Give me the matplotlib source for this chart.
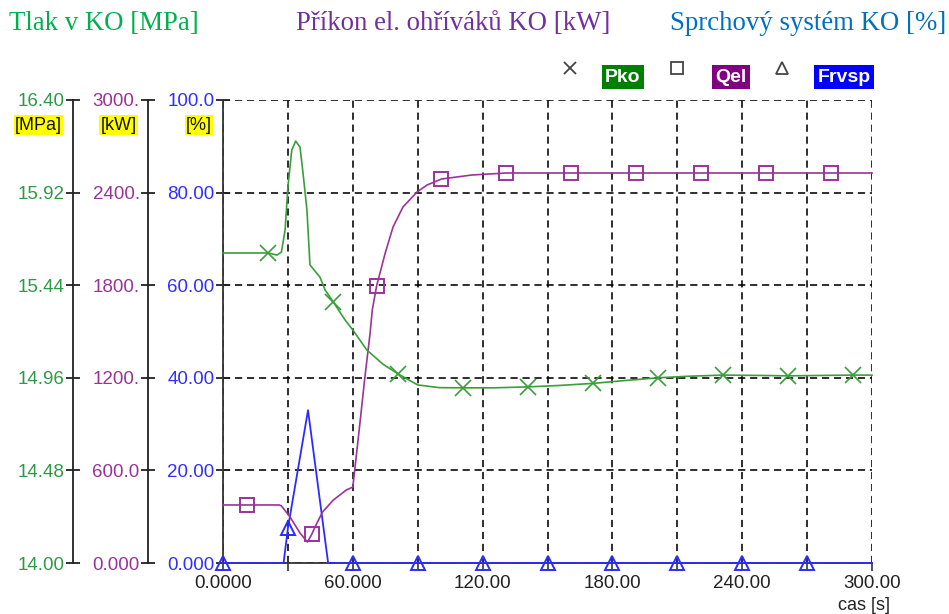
import matplotlib
matplotlib.use("Agg")
import matplotlib.pyplot as plt
from matplotlib.lines import Line2D
import numpy as np

# --- data -------------------------------------------------------------
# Pressure in the pressurizer (MPa)
pko_t = [0, 21, 25, 27, 28.7, 30, 31.8, 33.6, 35.6, 37, 38.8, 40.2, 44.8, 47.2,
         51, 56.4, 60, 66.5, 74, 81, 90, 100, 111, 125, 141, 155, 171, 185,
         201, 215, 231, 250, 261, 275, 291, 300]
pko_v = [15.607, 15.607, 15.596, 15.612, 15.726, 15.949, 16.141, 16.187, 16.156,
         16.02, 15.83, 15.545, 15.482, 15.415, 15.353, 15.26, 15.208, 15.104,
         15.03, 14.98, 14.923, 14.909, 14.908, 14.908, 14.913, 14.92, 14.931,
         14.945, 14.960, 14.968, 14.974, 14.972, 14.970, 14.972, 14.974, 14.974]
pko_marks = [21, 51, 81, 111, 141, 171, 201, 231, 261, 291]

# Electric heater power (kW)
qel_t = [0, 11, 26, 27, 31, 35.6, 39, 41, 42.5, 46, 51, 57, 60, 61, 63.3, 65.6,
         68, 69, 71, 75, 78.6, 83.2, 89.7, 94.3, 101, 115, 131, 161, 191, 221,
         251, 281, 300]
qel_v = [376, 376, 376, 370, 298, 194, 136, 185, 233, 330, 408, 473, 492, 616,
         907, 1205, 1490, 1639, 1795, 2009, 2177, 2307, 2404, 2449, 2488, 2514,
         2527, 2527, 2527, 2527, 2527, 2527, 2527]
qel_marks = [11, 41, 71, 101, 131, 161, 191, 221, 251, 281]

# Spray system opening (%)
frv_t = [0, 28, 30, 39.3, 48.6, 60, 90, 120, 150, 180, 210, 240, 270, 300]
frv_v = [0, 0, 7.5, 33.0, 0, 0, 0, 0, 0, 0, 0, 0, 0, 0]
frv_marks = [0, 30, 60, 90, 120, 150, 180, 210, 240, 270]

x_ticks = [0, 60, 120, 180, 240, 300]
x_labels = ["0.0000", "60.000", "120.00", "180.00", "240.00", "300.00"]
pct_ticks = [0, 20, 40, 60, 80, 100]
pct_labels = ["0.000", "20.00", "40.00", "60.00", "80.00", "100.0"]
kw_ticks = [0, 600, 1200, 1800, 2400, 3000]
kw_labels = ["0.000", "600.0", "1200.", "1800.", "2400.", "3000."]
mpa_ticks = [14.00, 14.48, 14.96, 15.44, 15.92, 16.40]
mpa_labels = ["14.00", "14.48", "14.96", "15.44", "15.92", "16.40"]

# --- styling ----------------------------------------------------------
plt.rcParams['font.family'] = ['Liberation Sans', 'DejaVu Sans']
W, H = 949, 614
fig = plt.figure(figsize=(W / 100, H / 100), dpi=100)
fig.patch.set_facecolor('white')

C_GREEN_LINE = '#3a9e3a'
C_PURPLE_LINE = '#9a339a'
C_BLUE_LINE = '#2b2bff'
C_GREEN_TXT = '#2e9a46'
C_PURPLE_TXT = '#993399'
C_BLUE_TXT = '#2f2fff'
TICK_FS = 13.5

ax = fig.add_axes([223 / W, 51 / H, 649 / W, 463 / H])
ax_kw = ax.twinx()
ax_mpa = ax.twinx()

ax.set_xlim(0, 300)
ax.set_ylim(0, 100)
ax_kw.set_ylim(0, 3000)
ax_mpa.set_ylim(14.0, 16.4)

# grid: dashed black lines every 30 s and every 20 %
ax.set_xticks(x_ticks)
ax.set_xticklabels(x_labels)
ax.set_xticks([30, 90, 150, 210, 270], minor=True)
ax.set_yticks(pct_ticks)
ax.set_yticklabels(pct_labels)
ax.grid(True, which='both', axis='x', color='black', linestyle=(0, (4.5, 3)), linewidth=1.15)
ax.grid(True, which='major', axis='y', color='black', linestyle=(0, (4.5, 3)), linewidth=1.15)
ax.set_axisbelow(True)

for name in ('top', 'right'):
    ax.spines[name].set_visible(False)
ax.spines['left'].set_color('#333333')
ax.spines['bottom'].set_color('#333333')
ax.spines['left'].set_linewidth(1.3)
ax.spines['bottom'].set_linewidth(1.3)

ax.tick_params(axis='x', which='both', direction='out', length=6, width=1.1,
               color='#222222', labelsize=TICK_FS, labelcolor='#222222', pad=3)
ax.tick_params(axis='y', direction='inout', length=10, width=1.3, color='#222222',
               labelsize=TICK_FS, labelcolor=C_BLUE_TXT, pad=1)
for lbl in ax.get_xticklabels():
    lbl.set_x(lbl.get_position()[0])

for tax, pos, ticks, labels, col in ((ax_kw, -75 / 649, kw_ticks, kw_labels, C_PURPLE_TXT),
                                     (ax_mpa, -150 / 649, mpa_ticks, mpa_labels, C_GREEN_TXT)):
    for name in ('top', 'right', 'bottom'):
        tax.spines[name].set_visible(False)
    tax.spines['left'].set_visible(True)
    tax.spines['left'].set_position(('axes', pos))
    tax.spines['left'].set_color('#222222')
    tax.spines['left'].set_linewidth(1.3)
    tax.yaxis.set_ticks_position('left')
    tax.yaxis.set_label_position('left')
    tax.set_yticks(ticks)
    tax.set_yticklabels(labels)
    tax.tick_params(axis='y', direction='inout', length=10, width=1.3, color='#222222',
                    labelsize=TICK_FS, labelcolor=col, pad=1)

# --- series -----------------------------------------------------------
def mark_idx(t, marks):
    return [t.index(m) for m in marks]

ax_mpa.plot(pko_t, pko_v, color=C_GREEN_LINE, lw=1.2, marker='x', markersize=11,
            markeredgewidth=1.2, markevery=mark_idx(pko_t, pko_marks), clip_on=False, zorder=3)
ax_kw.plot(qel_t, qel_v, color=C_PURPLE_LINE, lw=1.2, marker='s', markersize=10,
           markerfacecolor='none', markeredgewidth=1.4,
           markevery=mark_idx(qel_t, qel_marks), clip_on=False, zorder=3)
ax.plot(frv_t, frv_v, color=C_BLUE_LINE, lw=1.3, marker='^', markersize=10,
        markerfacecolor='none', markeredgewidth=1.4,
        markevery=mark_idx(frv_t, frv_marks), clip_on=False, zorder=4)

# --- headings ---------------------------------------------------------
serif = ['Liberation Serif', 'DejaVu Serif']
fig.text(9 / W, 1 - 23 / H, "Tlak v KO [MPa]", family=serif, fontsize=19.3,
         color='#00b050', ha='left', va='center')
fig.text(296 / W, 1 - 23 / H, "Příkon el. ohříváků KO [kW]", family=serif, fontsize=19.3,
         color='#7030a0', ha='left', va='center')
fig.text(946 / W, 1 - 23 / H, "Sprchový systém KO [%]", family=serif, fontsize=19.3,
         color='#0070c0', ha='right', va='center')

# unit tags under the top tick labels
for txt, xr in (("[MPa]", 62), ("[kW]", 137), ("[%]", 212)):
    fig.text(xr / W, 1 - 125 / H, txt, fontsize=13, color='#111111', ha='right', va='center',
             bbox=dict(boxstyle='square,pad=0.08', facecolor='#ffff00', edgecolor='none'))

# x axis caption
fig.text(838 / W, 1 - 605 / H, "cas [s]", fontsize=13, color='#222222', ha='left', va='center')

# legend row
for mk, mx, label, lx, face in (('x', 570, "Pko", 623, '#008000'),
                                ('s', 677, "Qel", 731, '#800080'),
                                ('^', 782, "Frvsp", 844, '#0000ff')):
    fig.add_artist(Line2D([mx / W], [1 - 68 / H], marker=mk, markersize=9,
                          markerfacecolor='none', markeredgecolor='#444444',
                          markeredgewidth=1.3, linestyle='none',
                          transform=fig.transFigure))
    fig.text(lx / W, 1 - 77 / H, label, fontsize=14, fontweight='bold', color='white',
             ha='center', va='center',
             bbox=dict(boxstyle='square,pad=0.18', facecolor=face, edgecolor='none'))

fig.savefig("out.png", dpi=100)
